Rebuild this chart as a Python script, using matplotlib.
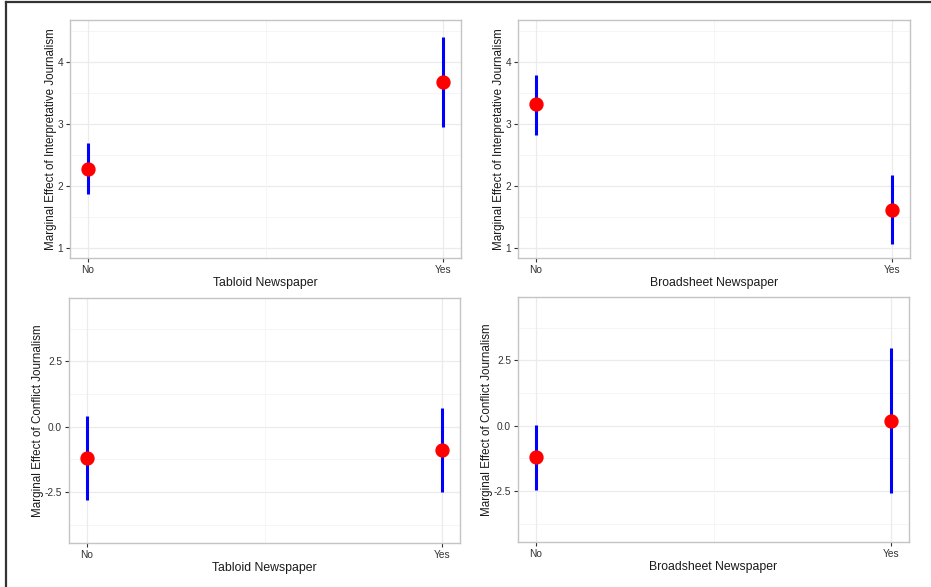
import matplotlib.pyplot as plt
from matplotlib.lines import Line2D

# categories and estimates
categories = ['No', 'Yes']

tabloid_interp = [2.27, 3.68]
tabloid_interp_lo = [1.87, 2.96]
tabloid_interp_hi = [2.69, 4.41]

broad_interp = [3.33, 1.62]
broad_interp_lo = [2.83, 1.07]
broad_interp_hi = [3.80, 2.18]

tabloid_conf = [-1.19, -0.90]
tabloid_conf_lo = [-2.79, -2.49]
tabloid_conf_hi = [0.42, 0.71]

broad_conf = [-1.19, 0.18]
broad_conf_lo = [-2.47, -2.58]
broad_conf_hi = [0.03, 2.97]

plt.rcParams['font.family'] = ['Liberation Sans', 'DejaVu Sans']

W, H = 931, 587
fig = plt.figure(figsize=(W / 100, H / 100), dpi=100)


def px_axes(left, right, top, bottom):
    return fig.add_axes([left / W, 1 - bottom / H, (right - left) / W, (bottom - top) / H])


def panel(ax, est, lo, hi, xlabel, ylabel, ylim, yticks, ylabels, yminor):
    x = [1, 2]
    ax.set_xlim(0.95, 2.05)
    ax.set_ylim(*ylim)
    # grid like ggplot theme_bw
    for v in yminor:
        ax.axhline(v, color='#f4f4f4', lw=0.6, zorder=0)
    for v in yticks:
        ax.axhline(v, color='#ebebeb', lw=0.9, zorder=0)
    ax.axvline(1.5, color='#f4f4f4', lw=0.6, zorder=0)
    for v in x:
        ax.axvline(v, color='#ebebeb', lw=0.9, zorder=0)
    ax.vlines(x, lo, hi, color='#0000ff', lw=2.2, zorder=2)
    ax.plot(x, est, 'o', color='#ff0000', ms=9.3, zorder=3)
    ax.set_xticks(x)
    ax.set_xticklabels(categories)
    ax.set_yticks(yticks)
    ax.set_yticklabels(ylabels)
    ax.tick_params(length=3, width=0.8, color='#333333', labelsize=7.3, labelcolor='#333333', pad=2)
    for s in ax.spines.values():
        s.set_color('#c4c4c4')
        s.set_linewidth(1.0)
    ax.set_xlabel(xlabel, fontsize=8.8, color='#1a1a1a', labelpad=1.5)
    ax.set_ylabel(ylabel, fontsize=8.4, color='#1a1a1a', labelpad=0.5)


ax1 = px_axes(70, 461, 20, 258)
panel(ax1, tabloid_interp, tabloid_interp_lo, tabloid_interp_hi,
      'Tabloid Newspaper', 'Marginal Effect of Interpretative Journalism',
      (0.84, 4.68), [1, 2, 3, 4], ['1', '2', '3', '4'], [1.5, 2.5, 3.5, 4.5])

ax2 = px_axes(518, 910, 20, 258)
panel(ax2, broad_interp, broad_interp_lo, broad_interp_hi,
      'Broadsheet Newspaper', 'Marginal Effect of Interpretative Journalism',
      (0.84, 4.68), [1, 2, 3, 4], ['1', '2', '3', '4'], [1.5, 2.5, 3.5, 4.5])

ax3 = px_axes(69, 460, 298, 543)
panel(ax3, tabloid_conf, tabloid_conf_lo, tabloid_conf_hi,
      'Tabloid Newspaper', 'Marginal Effect of Conflict Journalism',
      (-4.45, 4.93), [-2.5, 0, 2.5], ['-2.5', '0.0', '2.5'], [-3.75, -1.25, 1.25, 3.75])

ax4 = px_axes(518, 909, 297, 542)
panel(ax4, broad_conf, broad_conf_lo, broad_conf_hi,
      'Broadsheet Newspaper', 'Marginal Effect of Conflict Journalism',
      (-4.45, 4.93), [-2.5, 0, 2.5], ['-2.5', '0.0', '2.5'], [-3.75, -1.25, 1.25, 3.75])

# frame lines along top and left edge of the image
fig.add_artist(Line2D([6 / W, 1], [1 - 2 / H, 1 - 2 / H], color='#333333', lw=1.6))
fig.add_artist(Line2D([6 / W, 6 / W], [0, 1 - 2 / H], color='#333333', lw=1.6))

fig.savefig('out.png', dpi=100)
